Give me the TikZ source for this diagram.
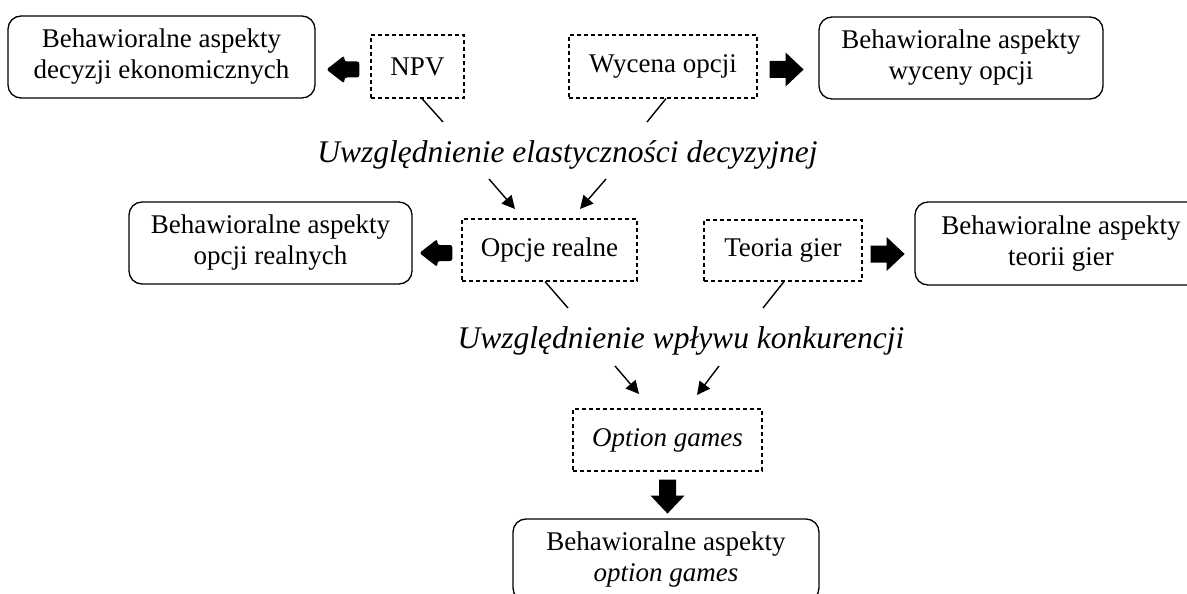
\documentclass[tikz,border=0pt]{standalone}
\usepackage{fontspec}
\setmainfont{Liberation Serif}
\usetikzlibrary{arrows.meta,calc}
\begin{document}
\begin{tikzpicture}[x=1pt,y=-1pt,
  every node/.style={inner sep=0pt, font=\fontsize{27}{31}\selectfont, align=center},
  rbox/.style={draw, line width=1.3pt, rounded corners=13pt},
  dbox/.style={draw, line width=1.2pt, dash pattern=on 4pt off 3pt},
  itl/.style={font=\fontsize{31.5}{36}\selectfont\itshape},
  thinline/.style={line width=1.4pt},
  tarrow/.style={line width=1.4pt, -{Triangle[length=13pt,width=13pt]}},
  blk/.pic={\fill (0,-8.5) -- (16,-8.5) -- (16,-17) -- (34,0) -- (16,17) -- (16,8.5) -- (0,8.5) -- cycle;},
  blkr/.pic={\fill[rounded corners=2.5pt] (0,-8) -- (15,-8) -- (15,-14) -- (33,0) -- (15,14) -- (15,8) -- (0,8) -- cycle;},
]
\useasboundingbox (0,0) rectangle (1187,594);
\clip (0,0) rectangle (1187,594);
% row 1
\node[rbox, minimum width=307pt, minimum height=82pt] (b1) at (161.5,57) {Behawioralne aspekty\\decyzji ekonomicznych};
\node[dbox, minimum width=93pt, minimum height=63pt] (npv) at (417.5,66.5) {NPV};
\node[dbox, minimum width=188pt, minimum height=63pt] (wyc) at (663,66.5) {Wycena opcji};
\node[rbox, minimum width=284pt, minimum height=82pt] (b2) at (961,58) {Behawioralne aspekty\\wyceny opcji};
\node[itl, anchor=base] (t1) at (567.5,162) {Uwzględnienie elastyczności decyzyjnej};
% row 2
\node[rbox, minimum width=283pt, minimum height=82pt] (b3) at (270.5,243) {Behawioralne aspekty\\opcji realnych};
\node[dbox, minimum width=175pt, minimum height=62pt] (op) at (549.5,250) {Opcje realne};
\node[dbox, minimum width=158pt, minimum height=61pt] (tg) at (783,250.5) {Teoria gier};
\node[rbox, minimum width=292pt, minimum height=83pt] (b4) at (1061,243.5) {Behawioralne aspekty\\teorii gier};
\node[itl, anchor=base] (t2) at (681,348) {Uwzględnienie wpływu konkurencji};
% row 3
\node[dbox, minimum width=189pt, minimum height=62pt] (og) at (667.5,440) {\itshape Option games};
\node[rbox, minimum width=306pt, minimum height=82pt] (b5) at (666,560) {Behawioralne aspekty\\\itshape option games};
% coordinates
\coordinate (l1) at (443,122);
\coordinate (l2) at (647,122);
\coordinate (a1s) at (489,179);
\coordinate (a1e) at (515,209);
\coordinate (a2s) at (606,179);
\coordinate (a2e) at (580,209);
\coordinate (l3) at (568,308);
\coordinate (l4) at (763,308);
\coordinate (a3s) at (615,366);
\coordinate (a3e) at (639,394);
\coordinate (a4s) at (719,366);
\coordinate (a4e) at (697,395);
% thin lines and arrows
\draw[thinline] ($(npv.south)+(4.5,0)$) -- (l1);
\draw[thinline] ($(wyc.south)+(3,0)$) -- (l2);
\draw[tarrow] (a1s) -- (a1e);
\draw[tarrow] (a2s) -- (a2e);
\draw[thinline] ($(op.south)+(-4.5,0)$) -- (l3);
\draw[thinline] ($(tg.south)+(1,0)$) -- (l4);
\draw[tarrow] (a3s) -- (a3e);
\draw[tarrow] (a4s) -- (a4e);
% block arrows
\pic[rotate=180] at ($(npv.west)+(-11,3)$) {blkr};
\pic at ($(wyc.east)+(12,3)$) {blk};
\pic[rotate=180] at ($(op.west)+(-9,3)$) {blkr};
\pic at ($(tg.east)+(8,3.5)$) {blk};
\pic[rotate=-90] at ($(og.south)+(0,8)$) {blk};
\end{tikzpicture}
\end{document}
